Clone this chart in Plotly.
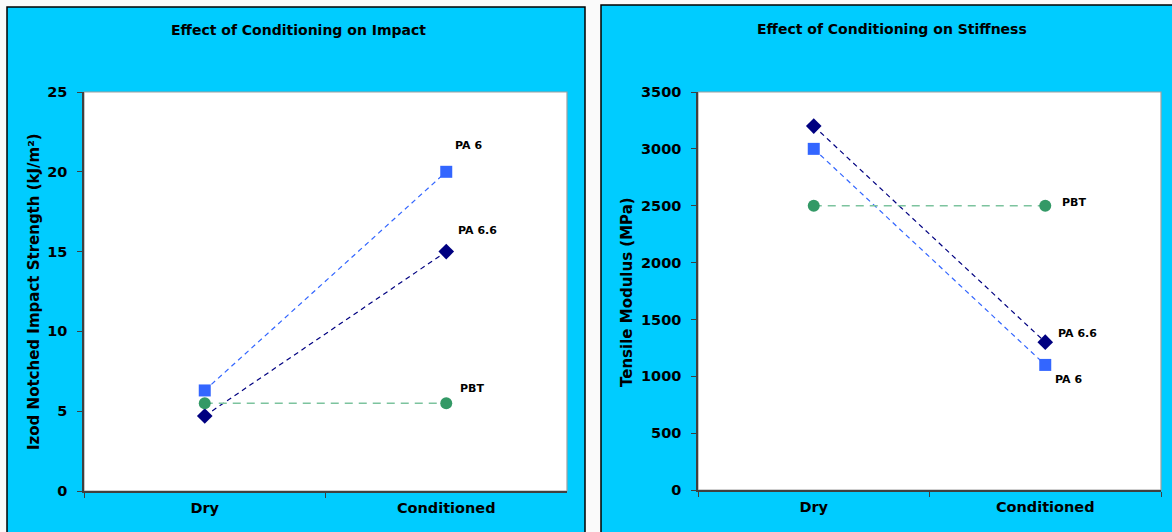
import plotly.graph_objects as go

W, H = 1172, 532
OX, OY = 0, 0

categories = ["Dry", "Conditioned"]
series_names = ["PA 6", "PA 6.6", "PBT"]

impact_pa6 = [6.3, 20.0]
impact_pa66 = [4.7, 15.0]
impact_pbt = [5.5, 5.5]

stiff_pa6 = [3000, 1100]
stiff_pa66 = [3200, 1300]
stiff_pbt = [2500, 2500]

impact_ticks = [0, 5, 10, 15, 20, 25]
stiff_ticks = [0, 500, 1000, 1500, 2000, 2500, 3000, 3500]

FONT = "DejaVu Sans"
CYAN = "#00CCFF"
C_PA6 = "#3366FF"
C_PA66 = "#000080"
C_PBT = "#339966"
C_PBT_LINE = "#7CC39E"


def px(x):
    return (x - OX) / W


def py(y):
    return 1 - (y - OY) / H


fig = go.Figure()

styles = {
    "PA 6": dict(color=C_PA6, line=C_PA6, symbol="square", size=12, dash="5px,4px", w=1.2),
    "PA 6.6": dict(color=C_PA66, line=C_PA66, symbol="diamond", size=12, dash="5px,4px", w=1.2),
    "PBT": dict(color=C_PBT, line=C_PBT_LINE, symbol="circle", size=12, dash="8px,6px", w=1.6),
}

left = {"PA 6": impact_pa6, "PA 6.6": impact_pa66, "PBT": impact_pbt}
right = {"PA 6": stiff_pa6, "PA 6.6": stiff_pa66, "PBT": stiff_pbt}

for name in series_names:
    s = styles[name]
    fig.add_trace(go.Scatter(
        x=categories, y=left[name], mode="lines+markers", name=name,
        line=dict(color=s["line"], width=s["w"], dash=s["dash"]),
        marker=dict(color=s["color"], symbol=s["symbol"], size=s["size"]),
        xaxis="x", yaxis="y", showlegend=False, cliponaxis=False))
for name in series_names:
    s = styles[name]
    fig.add_trace(go.Scatter(
        x=categories, y=right[name], mode="lines+markers", name=name,
        line=dict(color=s["line"], width=s["w"], dash=s["dash"]),
        marker=dict(color=s["color"], symbol=s["symbol"], size=s["size"]),
        xaxis="x2", yaxis="y2", showlegend=False, cliponaxis=False))

tickfont = dict(family=FONT, size=14.5, color="black", weight="bold")

xcommon = dict(type="category", categoryorder="array", categoryarray=categories,
               range=[-0.5, 1.5], tickson="boundaries", ticks="outside", ticklen=5,
               tickcolor="#404040", showline=True, linecolor="#404040", linewidth=1.5,
               mirror=False, showgrid=False, zeroline=False, tickfont=tickfont,
               fixedrange=True, automargin=False, ticklabelstandoff=3)
ycommon = dict(ticks="outside", ticklen=5, tickcolor="#404040", showline=True,
               linecolor="#404040", linewidth=1.5, showgrid=False, zeroline=False,
               tickfont=tickfont, fixedrange=True, automargin=False, ticklabelstandoff=7)

fig.update_layout(
    template="none",
    width=W, height=H,
    autosize=False,
    margin=dict(l=0, r=0, t=0, b=0, pad=0, autoexpand=False),
    paper_bgcolor="#FAFAFA",
    plot_bgcolor="white",
    xaxis=dict(domain=[px(84), px(567)], anchor="y", **xcommon),
    yaxis=dict(domain=[py(491), py(92)], anchor="x", range=[0, 25],
               tickvals=impact_ticks, **ycommon),
    xaxis2=dict(domain=[px(698), px(1161)], anchor="y2", **xcommon),
    yaxis2=dict(domain=[py(490), py(92)], anchor="x2", range=[0, 3500],
                tickvals=stiff_ticks, **ycommon),
)

shapes = [
    dict(type="rect", xref="paper", yref="paper", x0=px(7), x1=px(585), y0=py(545), y1=py(7),
         fillcolor=CYAN, line=dict(color="black", width=1.5), layer="below"),
    dict(type="rect", xref="paper", yref="paper", x0=px(601), x1=px(1185), y0=py(545), y1=py(5),
         fillcolor=CYAN, line=dict(color="black", width=1.5), layer="below"),
    # white plot areas with grey frame
    dict(type="rect", xref="x domain", yref="y domain", x0=0, x1=1, y0=0, y1=1,
         fillcolor="white", line=dict(color="#A0A0A0", width=1.2), layer="below"),
    dict(type="rect", xref="x2 domain", yref="y2 domain", x0=0, x1=1, y0=0, y1=1,
         fillcolor="white", line=dict(color="#A0A0A0", width=1.2), layer="below"),
]
fig.update_layout(shapes=shapes)

ann = []
tfont = dict(family=FONT, size=14, color="black", weight="bold")
ann.append(dict(text="Effect of Conditioning on Impact", xref="paper", yref="paper",
                x=px(298), y=py(30), xanchor="center", yanchor="middle",
                showarrow=False, font=tfont))
ann.append(dict(text="Effect of Conditioning on Stiffness", xref="paper", yref="paper",
                x=px(892), y=py(29), xanchor="center", yanchor="middle",
                showarrow=False, font=tfont))
afont = dict(family=FONT, size=15, color="black", weight="bold")
ann.append(dict(text="Izod Notched Impact Strength (kJ/m²)", xref="paper", yref="paper",
                x=px(34), y=py(292), textangle=-90, xanchor="center", yanchor="middle",
                showarrow=False, font=afont))
ann.append(dict(text="Tensile Modulus (MPa)", xref="paper", yref="paper",
                x=px(627), y=py(292), textangle=-90, xanchor="center", yanchor="middle",
                showarrow=False, font=afont))

lfont = dict(family=FONT, size=11, color="black", weight="bold")
label_pos_left = {"PA 6": (22, 26), "PA 6.6": (31, 21), "PBT": (26, 15)}
for name in series_names:
    dx, dy = label_pos_left[name]
    ann.append(dict(text=name, xref="x", yref="y", x=categories[1], y=left[name][1],
                    xshift=dx, yshift=dy, xanchor="center", yanchor="middle",
                    showarrow=False, font=lfont))
label_pos_right = {"PA 6": (23, -15), "PA 6.6": (32, 9), "PBT": (29, 3)}
for name in series_names:
    dx, dy = label_pos_right[name]
    ann.append(dict(text=name, xref="x2", yref="y2", x=categories[1], y=right[name][1],
                    xshift=dx, yshift=dy, xanchor="center", yanchor="middle",
                    showarrow=False, font=lfont))
fig.update_layout(annotations=ann)

fig.write_html("out.html",
               config={"displayModeBar": False},
               post_script="document.body.style.margin='0';document.body.style.overflow='hidden';")
